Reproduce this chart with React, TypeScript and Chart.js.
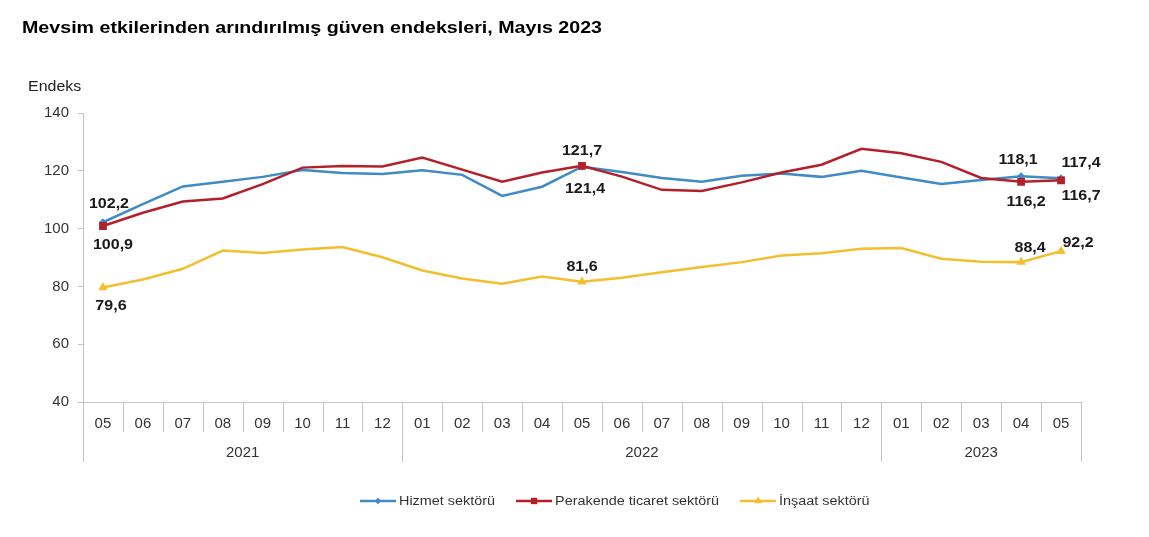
import React, { useEffect, useRef } from 'react';
import { Chart, registerables } from 'chart.js';

Chart.register(...registerables);

const FONT = '"Liberation Sans", Arial, Helvetica, sans-serif';

const titleText = 'Mevsim etkilerinden arındırılmış güven endeksleri, Mayıs 2023';
const yAxisTitle = 'Endeks';

const months = ['05', '06', '07', '08', '09', '10', '11', '12', '01', '02', '03', '04', '05', '06', '07', '08', '09', '10', '11', '12', '01', '02', '03', '04', '05'];
const years = ['2021', '2022', '2023'];
const monthsPerYear = [8, 12, 5];

const seriesNames = ['Hizmet sektörü', 'Perakende ticaret sektörü', 'İnşaat sektörü'];
const hizmet = [102.2, 108.5, 114.6, 116.2, 117.9, 120.3, 119.2, 118.9, 120.2, 118.6, 111.3, 114.5, 121.4, 119.6, 117.5, 116.2, 118.3, 119.1, 117.9, 120.0, 117.7, 115.4, 116.8, 118.1, 117.4];
const perakende = [100.9, 105.5, 109.4, 110.4, 115.4, 121.1, 121.7, 121.5, 124.6, 120.4, 116.2, 119.4, 121.7, 118.0, 113.4, 113.0, 116.0, 119.4, 122.1, 127.6, 126.1, 123.1, 117.5, 116.2, 116.7];
const insaat = [79.6, 82.4, 86.1, 92.4, 91.6, 92.8, 93.6, 90.1, 85.5, 82.7, 80.9, 83.4, 81.6, 83.0, 84.9, 86.7, 88.4, 90.7, 91.5, 93.0, 93.3, 89.6, 88.5, 88.4, 92.2];

const yMin = 40;
const yMax = 140;
const yStep = 20;

const markedIndexes = [0, 12, 23, 24];

// styling
const colors = ['#3f8cc4', '#b3202c', '#f2bf2f'];
const markerStyles = ['rectRot', 'rect', 'triangle'];
const markerRadius = [4, 5.5, 5.5];
// label offsets per series: [index, dx, dy]
const labelOffsets: number[][][] = [
  [[0, 6, -18], [12, 3, 22], [23, -3, -16], [24, 20, -15]],
  [[0, 10, 19], [12, 0, -15], [23, 5, 20], [24, 20, 16]],
  [[0, 8, 18], [12, 0, -15], [23, 9, -14], [24, 17, -8]],
];

function fmt(v: number) {
  return v.toFixed(1).replace('.', ',');
}

function drawScaledText(ctx: CanvasRenderingContext2D, text: string, x: number, y: number, sx: number, align: 'left' | 'center') {
  const w = ctx.measureText(text).width * sx;
  const left = align === 'center' ? x - w / 2 : x;
  ctx.save();
  ctx.translate(left, y);
  ctx.scale(sx, 1);
  ctx.textAlign = 'left';
  ctx.fillText(text, 0, 0);
  ctx.restore();
  return w;
}

function drawMarker(ctx: CanvasRenderingContext2D, style: string, x: number, y: number, r: number, color: string) {
  ctx.save();
  ctx.fillStyle = color;
  ctx.beginPath();
  if (style === 'rectRot') {
    ctx.moveTo(x, y - r);
    ctx.lineTo(x + r, y);
    ctx.lineTo(x, y + r);
    ctx.lineTo(x - r, y);
  } else if (style === 'rect') {
    const s = r * Math.SQRT1_2;
    ctx.rect(x - s, y - s, 2 * s, 2 * s);
  } else {
    ctx.moveTo(x, y - r);
    ctx.lineTo(x + r * 0.866, y + r * 0.5);
    ctx.lineTo(x - r * 0.866, y + r * 0.5);
  }
  ctx.closePath();
  ctx.fill();
  ctx.restore();
}

const decorPlugin = {
  id: 'decor',
  afterDraw(chart: any) {
    const ctx: CanvasRenderingContext2D = chart.ctx;
    const xs = chart.scales.x;
    const area = chart.chartArea;
    ctx.save();

    // title
    ctx.fillStyle = '#000';
    ctx.font = `bold 16.5px ${FONT}`;
    ctx.textBaseline = 'middle';
    const tw = ctx.measureText(titleText).width;
    drawScaledText(ctx, titleText, 22, 28, 580 / tw, 'left');

    // y axis title
    ctx.fillStyle = '#222';
    ctx.font = `14px ${FONT}`;
    drawScaledText(ctx, yAxisTitle, 28, 87, 1.14, 'left');

    // x separators
    ctx.strokeStyle = '#c4c4c4';
    ctx.lineWidth = 1;
    const yearBounds: number[] = [0];
    monthsPerYear.reduce((acc, n) => { yearBounds.push(acc + n); return acc + n; }, 0);
    for (let i = 0; i <= months.length; i++) {
      let x;
      if (i === 0) x = area.left;
      else if (i === months.length) x = area.right;
      else x = (xs.getPixelForValue(i - 1) + xs.getPixelForValue(i)) / 2;
      x = Math.round(x) + 0.5;
      const long = yearBounds.includes(i);
      ctx.beginPath();
      ctx.moveTo(x, area.bottom);
      ctx.lineTo(x, area.bottom + (long ? 60 : 30));
      ctx.stroke();
    }

    // year labels
    ctx.fillStyle = '#333';
    ctx.font = `15px ${FONT}`;
    ctx.textAlign = 'center';
    ctx.textBaseline = 'middle';
    years.forEach((yr, k) => {
      const a = yearBounds[k];
      const b = yearBounds[k + 1];
      const xl = a === 0 ? area.left : (xs.getPixelForValue(a - 1) + xs.getPixelForValue(a)) / 2;
      const xr = b === months.length ? area.right : (xs.getPixelForValue(b - 1) + xs.getPixelForValue(b)) / 2;
      ctx.fillText(yr, (xl + xr) / 2, area.bottom + 51);
    });

    // data labels
    ctx.fillStyle = '#1a1a1a';
    ctx.font = `bold 15px ${FONT}`;
    chart.data.datasets.forEach((ds: any, di: number) => {
      const meta = chart.getDatasetMeta(di);
      labelOffsets[di].forEach(([idx, dx, dy]) => {
        const pt = meta.data[idx];
        drawScaledText(ctx, fmt(ds.data[idx]), pt.x + dx, pt.y + dy, 1.07, 'center');
      });
    });

    // legend
    ctx.font = `12px ${FONT}`;
    ctx.fillStyle = '#333';
    const ly = 501;
    let cx = 360;
    seriesNames.forEach((name, i) => {
      ctx.strokeStyle = colors[i];
      ctx.lineWidth = 2.5;
      ctx.beginPath();
      ctx.moveTo(cx, ly);
      ctx.lineTo(cx + 36, ly);
      ctx.stroke();
      drawMarker(ctx, markerStyles[i], cx + 18, ly, i === 0 ? 3.2 : 4.5, colors[i]);
      ctx.fillStyle = '#333';
      const w = drawScaledText(ctx, name, cx + 39, ly + 1, 1.2, 'left');
      cx += 39 + w + 21;
    });

    ctx.restore();
  },
};

export default function App() {
  const ref = useRef<HTMLCanvasElement>(null);
  useEffect(() => {
    const series = [hizmet, perakende, insaat];
    const chart = new Chart(ref.current as HTMLCanvasElement, {
      type: 'line',
      data: {
        labels: months,
        datasets: series.map((data, i) => ({
          label: seriesNames[i],
          data,
          borderColor: colors[i],
          backgroundColor: colors[i],
          borderWidth: 2.5,
          pointStyle: markerStyles[i] as any,
          pointRadius: (c: any) => (markedIndexes.includes(c.dataIndex) ? markerRadius[i] : 0),
          pointBorderWidth: 0,
          pointHoverRadius: 0,
          tension: 0,
          order: i === 1 ? 0 : i === 0 ? 1 : 2,
        })),
      },
      options: {
        responsive: false,
        animation: false,
        events: [],
        layout: { padding: { top: 113, right: 68, bottom: 0, left: 0 } },
        plugins: {
          legend: { display: false },
          title: { display: false },
          tooltip: { enabled: false },
        },
        scales: {
          x: {
            type: 'category',
            offset: true,
            grid: { display: false, drawTicks: false },
            border: { display: true, color: '#c4c4c4', width: 1 },
            ticks: {
              font: { family: FONT, size: 15 },
              color: '#333',
              padding: 13,
              maxRotation: 0,
              autoSkip: false,
            },
            afterFit: (s: any) => { s.height = 135; },
          },
          y: {
            min: yMin,
            max: yMax,
            ticks: {
              stepSize: yStep,
              font: { family: FONT, size: 15 },
              color: '#333',
              padding: 9,
            },
            grid: { drawOnChartArea: false, drawTicks: true, tickLength: 5, color: '#c4c4c4' },
            border: { display: true, color: '#c4c4c4', width: 1 },
            afterFit: (s: any) => { s.width = 83; },
          },
        },
      },
      plugins: [decorPlugin],
    });
    return () => chart.destroy();
  }, []);

  return (
    <div style={{ position: 'absolute', left: 0, top: 0, width: 1149, height: 537, background: '#fff' }}>
      <canvas ref={ref} width={1149} height={537} style={{ display: 'block', width: 1149, height: 537 }} />
    </div>
  );
}
